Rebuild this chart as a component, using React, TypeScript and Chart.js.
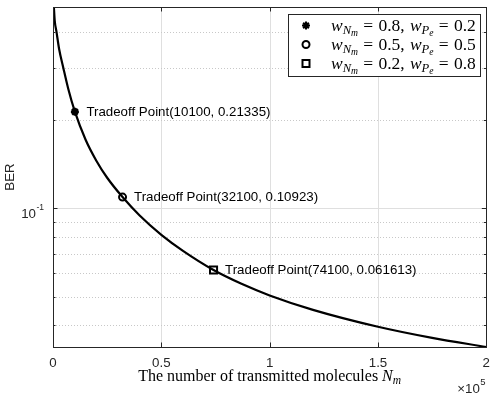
import React, { useEffect, useRef } from 'react';
import { Chart, registerables } from 'chart.js';

Chart.register(...registerables);

// ---- data ----
const curveX = [400, 800, 1600, 2800, 4800, 7000, 10100, 15000, 20000, 25000, 32100, 40000, 50000, 60000, 74100, 87000, 100000, 120000, 150000, 175000, 200000];
const curveY = [0.485, 0.4355, 0.4, 0.3497, 0.3, 0.256, 0.21335, 0.1716, 0.1453, 0.1271, 0.10923, 0.0945, 0.0812, 0.0716, 0.061613, 0.0553, 0.0505, 0.0451, 0.0395, 0.0362, 0.0337];
const tradeoffX = [10100, 32100, 74100];
const tradeoffY = [0.21335, 0.10923, 0.061613];
const weightNm = ['0.8', '0.5', '0.2'];
const weightPe = ['0.2', '0.5', '0.8'];
const markerStyles = ['star', 'circle', 'rect'];
const xTicks = [0, 50000, 100000, 150000, 200000];
const yMajorTicks = [0.1];
const yMinorTicks = [0.04, 0.05, 0.06, 0.07, 0.08, 0.09, 0.2, 0.3, 0.4];
const xMin = 0;
const xMax = 200000;
const yMin = 0.0337;
const yMax = 0.485;

const SANS = '"Liberation Sans", Arial, sans-serif';
const SERIF = '"Liberation Serif", "Times New Roman", serif';
const AX = '#262626';

type Part = { t?: string; it?: boolean; lvl?: number; gap?: number };

function drawParts(ctx: CanvasRenderingContext2D, parts: Part[], x: number, y: number, size: number, draw: boolean) {
  let cx = x;
  for (const p of parts) {
    if (p.gap) { cx += p.gap * size; continue; }
    const lvl = p.lvl || 0;
    const s = lvl === 0 ? size : lvl === 1 ? size * 0.72 : size * 0.55;
    const dy = lvl === 0 ? 0 : lvl === 1 ? size * 0.2 : size * 0.34;
    ctx.font = `${p.it ? 'italic ' : ''}${s}px ${SERIF}`;
    if (draw) ctx.fillText(p.t || '', cx, y + dy);
    cx += ctx.measureText(p.t || '').width;
  }
  return cx - x;
}

function drawLegendMarker(ctx: CanvasRenderingContext2D, style: string, x: number, y: number) {
  ctx.save();
  ctx.strokeStyle = '#000';
  ctx.lineWidth = 2;
  ctx.beginPath();
  if (style === 'star') {
    const r = 4;
    for (const a of [0, Math.PI / 4, Math.PI / 2, (3 * Math.PI) / 4]) {
      ctx.moveTo(x + Math.cos(a) * r, y + Math.sin(a) * r);
      ctx.lineTo(x - Math.cos(a) * r, y - Math.sin(a) * r);
    }
  } else if (style === 'circle') {
    ctx.arc(x, y, 3.5, 0, Math.PI * 2);
  } else {
    ctx.rect(x - 3.5, y - 3.5, 7, 7);
  }
  ctx.stroke();
  ctx.restore();
}

const overlay = {
  id: 'overlay',
  beforeDatasetsDraw(chart: any) {
    const { ctx, chartArea: a, scales } = chart;
    const xs = scales.x;
    const ys = scales.y;
    ctx.save();
    ctx.lineWidth = 1;
    ctx.strokeStyle = '#dfdfdf';
    ctx.beginPath();
    for (const v of xTicks) {
      if (v <= xMin || v >= xMax) continue;
      const px = Math.round(xs.getPixelForValue(v)) + 0.5;
      ctx.moveTo(px, a.top);
      ctx.lineTo(px, a.bottom);
    }
    for (const v of yMajorTicks) {
      const py = Math.round(ys.getPixelForValue(v)) + 0.5;
      ctx.moveTo(a.left, py);
      ctx.lineTo(a.right, py);
    }
    ctx.stroke();
    ctx.setLineDash([1, 2]);
    ctx.strokeStyle = '#c8c8c8';
    ctx.beginPath();
    for (const v of yMinorTicks) {
      const py = Math.round(ys.getPixelForValue(v)) + 0.5;
      ctx.moveTo(a.left, py);
      ctx.lineTo(a.right, py);
    }
    ctx.stroke();
    ctx.restore();
  },
  afterDatasetsDraw(chart: any) {
    const { ctx, chartArea: a, scales } = chart;
    const xs = scales.x;
    const ys = scales.y;
    ctx.save();
    // box
    ctx.strokeStyle = AX;
    ctx.lineWidth = 1;
    ctx.strokeRect(Math.round(a.left) + 0.5, Math.round(a.top) + 0.5, Math.round(a.right - a.left), Math.round(a.bottom - a.top));
    // inner ticks
    ctx.beginPath();
    for (const v of xTicks) {
      if (v <= xMin || v >= xMax) continue;
      const px = Math.round(xs.getPixelForValue(v)) + 0.5;
      ctx.moveTo(px, a.bottom); ctx.lineTo(px, a.bottom - 4.5);
      ctx.moveTo(px, a.top); ctx.lineTo(px, a.top + 4.5);
    }
    for (const v of yMajorTicks) {
      const py = Math.round(ys.getPixelForValue(v)) + 0.5;
      ctx.moveTo(a.left, py); ctx.lineTo(a.left + 4.5, py);
      ctx.moveTo(a.right, py); ctx.lineTo(a.right - 4.5, py);
    }
    for (const v of yMinorTicks) {
      const py = Math.round(ys.getPixelForValue(v)) + 0.5;
      ctx.moveTo(a.left, py); ctx.lineTo(a.left + 2.5, py);
      ctx.moveTo(a.right, py); ctx.lineTo(a.right - 2.5, py);
    }
    ctx.stroke();
    // annotations
    ctx.fillStyle = '#000';
    ctx.font = `13.3px ${SANS}`;
    ctx.textAlign = 'left';
    ctx.textBaseline = 'middle';
    tradeoffX.forEach((x, i) => {
      const px = xs.getPixelForValue(x);
      const py = ys.getPixelForValue(tradeoffY[i]);
      ctx.fillText(`Tradeoff Point(${x}, ${tradeoffY[i]})`, px + 11.5, py + 0.5);
    });
    ctx.restore();
  },
  afterDraw(chart: any) {
    const { ctx, chartArea: a, scales } = chart;
    const ys = scales.y;
    ctx.save();
    ctx.fillStyle = AX;
    // y tick label 10^-1
    for (const v of yMajorTicks) {
      const py = ys.getPixelForValue(v);
      const exp = String(Math.round(Math.log10(v)));
      const mid = a.left - 17;
      ctx.textBaseline = 'middle';
      ctx.font = `8.5px ${SANS}`;
      ctx.textAlign = 'left';
      ctx.fillText(exp, mid + 0.5, py - 0.5);
      ctx.font = `13.3px ${SANS}`;
      ctx.textAlign = 'right';
      ctx.fillText('10', mid, py + 6);
    }
    // x exponent
    ctx.textBaseline = 'middle';
    ctx.font = `13.3px ${SANS}`;
    ctx.textAlign = 'right';
    ctx.fillText('\u00d710', a.right - 6.5, 389.5);
    ctx.font = `9.5px ${SANS}`;
    ctx.textAlign = 'left';
    ctx.fillText('5', a.right - 6, 382.5);
    // y label
    ctx.save();
    ctx.translate(10.5, (a.top + a.bottom) / 2);
    ctx.rotate(-Math.PI / 2);
    ctx.font = `13.3px ${SANS}`;
    ctx.textAlign = 'center';
    ctx.textBaseline = 'middle';
    ctx.fillText('BER', 0, 0);
    ctx.restore();
    // x label
    const xl: Part[] = [{ t: 'The number of transmitted molecules ' }, { t: 'N', it: true }, { t: 'm', it: true, lvl: 1 }];
    ctx.textAlign = 'left';
    ctx.textBaseline = 'alphabetic';
    ctx.fillStyle = '#000';
    const w = drawParts(ctx, xl, 0, 0, 16, false);
    drawParts(ctx, xl, (a.left + a.right) / 2 - w / 2, 380.5, 16, true);
    // legend
    const lx = 288, ly = 14, lw = 192, lh = 62;
    ctx.fillStyle = '#fff';
    ctx.fillRect(lx, ly, lw, lh);
    ctx.strokeStyle = AX;
    ctx.lineWidth = 1;
    ctx.strokeRect(lx + 0.5, ly + 0.5, lw, lh);
    ctx.fillStyle = '#000';
    markerStyles.forEach((st, i) => {
      const cy = 25.5 + i * 19;
      drawLegendMarker(ctx, st, 306, cy);
      const parts: Part[] = [
        { t: 'w', it: true }, { t: 'N', it: true, lvl: 1 }, { t: 'm', it: true, lvl: 2 },
        { gap: 0.3 }, { t: '=' }, { gap: 0.3 }, { t: weightNm[i] + ',' }, { gap: 0.3 },
        { t: 'w', it: true }, { t: 'P', it: true, lvl: 1 }, { t: 'e', it: true, lvl: 2 },
        { gap: 0.3 }, { t: '=' }, { gap: 0.3 }, { t: weightPe[i] },
      ];
      drawParts(ctx, parts, 331, cy + 5, 17.5, true);
    });
    ctx.restore();
  },
};

export default function App() {
  const ref = useRef<HTMLCanvasElement>(null);
  useEffect(() => {
    if (!ref.current) return;
    const markerSets = tradeoffX.map((x, i) => ({
      label: `m${i}`,
      data: [{ x, y: tradeoffY[i] }],
      showLine: false,
      pointStyle: markerStyles[i],
      pointRadius: markerStyles[i] === 'rect' ? 5 : markerStyles[i] === 'circle' ? 3.5 : 4,
      pointBorderWidth: markerStyles[i] === 'star' ? 2.5 : 2,
      pointBorderColor: '#000',
      pointBackgroundColor: markerStyles[i] === 'star' ? '#000' : 'rgba(0,0,0,0)',
      borderColor: '#000',
    }));
    const chart = new Chart(ref.current, {
      type: 'scatter',
      data: {
        datasets: [
          ...markerSets,
          {
            label: 'curve',
            data: curveX.map((x, i) => ({ x, y: curveY[i] })),
            showLine: true,
            borderColor: '#000',
            borderWidth: 2.2,
            pointRadius: 0,
            cubicInterpolationMode: 'monotone',
            fill: false,
          },
        ],
      } as any,
      options: {
        animation: false,
        responsive: false,
        maintainAspectRatio: false,
        layout: { padding: { top: 3, right: 9, left: 0, bottom: 0 } },
        plugins: { legend: { display: false }, tooltip: { enabled: false } },
        scales: {
          x: {
            type: 'linear',
            min: xMin,
            max: xMax,
            afterBuildTicks: (s: any) => { s.ticks = xTicks.map((v) => ({ value: v })); },
            afterFit: (s: any) => { s.height = 49; },
            ticks: {
              callback: (v: any) => String(Number(v) / 1e5),
              font: { family: SANS, size: 13.3 },
              color: AX,
              padding: 8,
              maxRotation: 0,
              autoSkip: false,
            },
            grid: { display: false, drawTicks: false },
            border: { display: false },
          },
          y: {
            type: 'logarithmic',
            min: yMin,
            max: yMax,
            afterBuildTicks: (s: any) => { s.ticks = [...yMinorTicks, ...yMajorTicks].sort((p, q) => p - q).map((v) => ({ value: v })); },
            afterFit: (s: any) => { s.width = 53; },
            ticks: { display: false },
            grid: { display: false, drawTicks: false },
            border: { display: false },
          },
        },
      } as any,
      plugins: [overlay],
    });
    return () => chart.destroy();
  }, []);
  return (
    <div style={{ position: 'absolute', left: 0, top: 0, width: 498, height: 396, background: '#fff' }}>
      <canvas ref={ref} width={498} height={396} style={{ display: 'block' }} />
    </div>
  );
}
